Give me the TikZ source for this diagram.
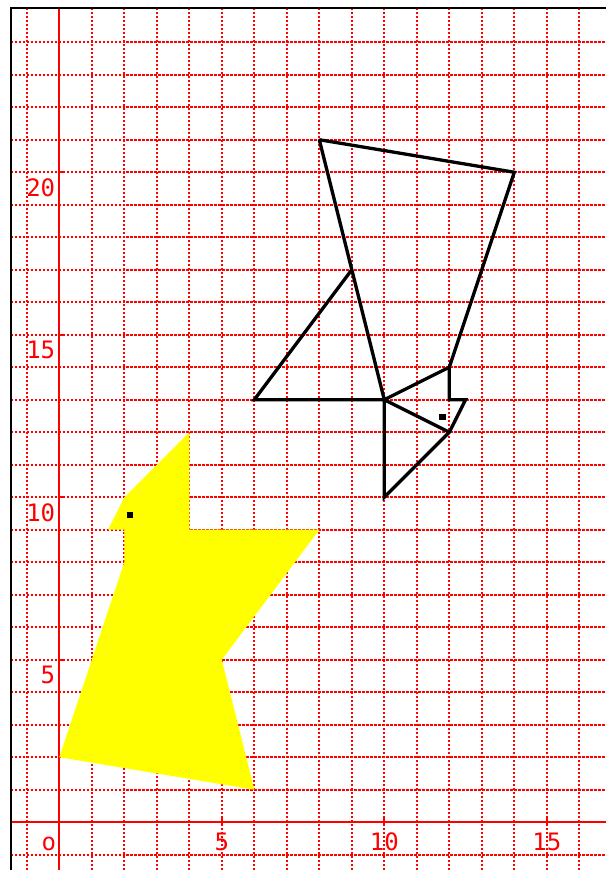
\documentclass[tikz,border=0pt]{standalone}
\usepackage{fontspec}
\newfontfamily\labfont{DejaVu Sans Mono}
\definecolor{pyellow}{RGB}{255,255,0}
\definecolor{pred}{RGB}{255,0,0}
\begin{document}
\begin{tikzpicture}[x=1cm,y=1cm,
  gridline/.style={pred, line width=1.8pt, dash pattern=on 2pt off 1.5pt},
  axisline/.style={pred, line width=1.7pt},
  tickline/.style={pred, line width=1.7pt},
  frameline/.style={black, line width=1.7pt},
  shapeline/.style={black, line width=2.9pt},
  lab/.style={text=pred, font=\labfont\fontsize{21}{25}\selectfont, inner sep=0pt}]
\useasboundingbox (-1.825,-1.47) rectangle (16.82,25.30);
% grid
\foreach \x in {-1,...,16} \draw[gridline] (\x,-1.47) -- (\x,25.05);
\foreach \y in {-1,...,24} \draw[gridline] (-1.5,\y) -- (16.82,\y);
% axes
\draw[axisline] (-1.5,0) -- (16.82,0);
\draw[axisline] (0,-1.47) -- (0,25.05);
\foreach \x in {5,10,15} \draw[tickline] (\x,-0.12) -- (\x,0.14);
\foreach \y in {5,10,15,20} \draw[tickline] (0,\y) -- (0.18,\y);
% frame
\draw[frameline] (-1.5,-1.47) -- (-1.5,25.05) -- (16.82,25.05);
% labels
\node[lab, anchor=base] (lo) at (-0.32,-0.86) {o};
\node[lab, anchor=base] (lx5) at (5,-0.87) {5};
\node[lab, anchor=base] (lx10) at (10,-0.87) {10};
\node[lab, anchor=base] (lx15) at (15,-0.87) {15};
\foreach \y in {5,10,15,20}
  \node[lab, anchor=base east] (ly\y) at (-0.12,\y-0.74) {\y};
% yellow figure
\fill[pyellow] (0,2) -- (6,1) -- (5,5) -- (8,9) -- (4,9) -- (4,12) -- (2,10)
  -- (1.5,9) -- (2,9) -- (2,8) -- cycle;
\fill[black] (2.18,9.46) +(-0.1,-0.1) rectangle +(0.1,0.1);
% black outline figure
\draw[shapeline] (8,21) -- (14,20) -- (12,14) -- (12,13) -- (12.5,13) -- (12,12)
  -- (10,10) -- (10,13) -- (6,13) -- (9,17);
\draw[shapeline] (8,21) -- (10,13) -- (12,14);
\draw[shapeline] (10,13) -- (12,12);
\fill[black] (11.79,12.47) +(-0.1,-0.1) rectangle +(0.1,0.1);
\end{tikzpicture}
\end{document}
